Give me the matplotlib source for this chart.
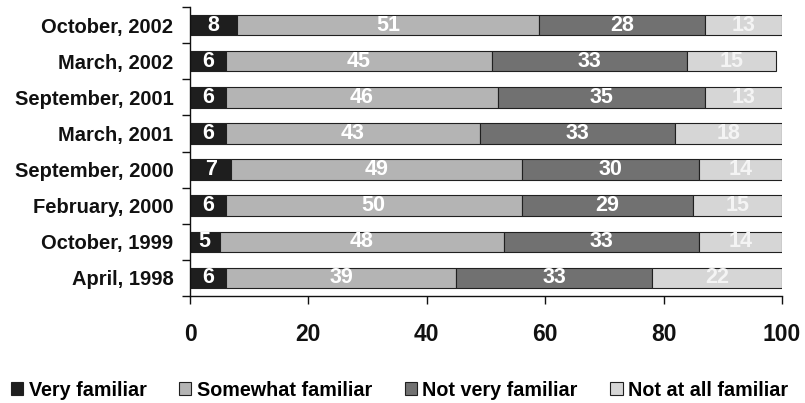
import matplotlib
matplotlib.use("Agg")
import matplotlib.pyplot as plt
import numpy as np

plt.rcParams['font.family'] = ['Liberation Sans', 'DejaVu Sans']

# Survey waves, listed bottom to top
waves = ["April, 1998", "October, 1999", "February, 2000", "September, 2000",
         "March, 2001", "September, 2001", "March, 2002", "October, 2002"]

very_familiar = [6, 5, 6, 7, 6, 6, 6, 8]
somewhat_familiar = [39, 48, 50, 49, 43, 46, 45, 51]
not_very_familiar = [33, 33, 29, 30, 33, 35, 33, 28]
not_at_all_familiar = [22, 14, 15, 14, 18, 13, 15, 13]

series_names = ["Very familiar", "Somewhat familiar", "Not very familiar", "Not at all familiar"]
series_values = [very_familiar, somewhat_familiar, not_very_familiar, not_at_all_familiar]
series_colors = ["#1e1e1e", "#b4b4b4", "#717171", "#d6d6d6"]
label_colors = ["#ffffff", "#ffffff", "#ffffff", "#f4f4f4"]

x_ticks = [0, 20, 40, 60, 80, 100]

fig = plt.figure(figsize=(8.05, 4.03), dpi=100)
ax = fig.add_axes([190 / 805, 1 - 296 / 403, (782 - 190) / 805, 289 / 403])

ypos = np.arange(len(waves))
left = np.zeros(len(waves))
handles = []
for name, vals, col, tcol in zip(series_names, series_values, series_colors, label_colors):
    vals = np.array(vals, dtype=float)
    bars = ax.barh(ypos, vals, left=left, height=0.57, color=col,
                   edgecolor="#202020", linewidth=0.8, label=name)
    handles.append(bars)
    for y, l, v in zip(ypos, left, vals):
        ax.text(l + v / 2, y, f"{int(v)}", ha="center", va="center",
                color=tcol, fontsize=15.5, fontweight="bold")
    left += vals

ax.set_xlim(0, 100)
ax.set_ylim(-0.5, len(waves) - 0.5)

ax.set_yticks(ypos)
ax.set_yticklabels(waves, fontsize=14.5, fontweight="bold", color="#111111")
ax.set_yticks(np.arange(-0.5, len(waves)), minor=True)
ax.tick_params(axis="y", which="major", length=0, pad=12)
ax.tick_params(axis="y", which="minor", length=5.5, width=1, color="#111111")

ax.set_xticks(x_ticks)
ax.set_xticklabels([str(t) for t in x_ticks], fontsize=16.5, fontweight="bold", color="#111111")
ax.tick_params(axis="x", length=5.5, width=1, color="#111111", pad=14)

for side in ("top", "right"):
    ax.spines[side].set_visible(False)
for side in ("left", "bottom"):
    ax.spines[side].set_color("#111111")
    ax.spines[side].set_linewidth(1)

fig.legend(handles=handles, labels=series_names, loc="center left",
           bbox_to_anchor=(11 / 805, 1 - 390 / 403), ncol=4, frameon=False,
           prop={"size": 14.2, "weight": "bold"}, handlelength=0.62, handleheight=0.62,
           handletextpad=0.27, columnspacing=1.66, borderpad=0, borderaxespad=0)

fig.savefig("out.png", dpi=100, facecolor="white")
